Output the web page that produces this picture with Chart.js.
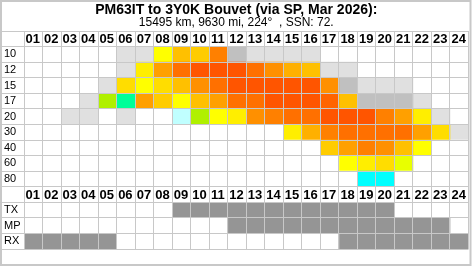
<!DOCTYPE html>
<html>
<head>
<meta charset="utf-8">
<script src="https://cdn.jsdelivr.net/npm/chart.js@4.4.1/dist/chart.umd.min.js"></script>
<style>
  html, body { margin: 0; padding: 0; background: #fff; }
  #wrap { width: 472px; height: 268px; }
</style>
</head>
<body>
<div id="wrap"><canvas id="chart" width="472" height="268"></canvas></div>
<script>
// UTC hours along the top
const hours = ['01','02','03','04','05','06','07','08','09','10','11','12',
               '13','14','15','16','17','18','19','20','21','22','23','24'];
const bandLabels = ['10','12','15','17','20','30','40','60','80'];
const modeLabels = ['TX','MP','RX'];

// level per hour for each band (0 = closed, 1/2 = grey, 3.. = colour scale)
const band10 = [0,0,0,0,0,1,1,8,12,11,16,2,1,1,1,1,0,0,0,0,0,0,0,0];
const band12 = [0,0,0,0,0,1,9,14,17,19,19,19,17,15,13,12,1,1,0,0,0,0,0,0];
const band15 = [0,0,0,0,1,10,8,10,12,15,17,19,19,19,19,19,15,2,1,1,1,0,0,0];
const band17 = [0,0,0,1,6,5,14,11,8,12,14,17,17,19,19,19,18,12,2,2,2,1,0,0];
const band20 = [0,0,1,1,0,1,0,0,3,6,8,9,15,16,17,17,19,19,19,16,14,9,1,0];
const band30 = [0,0,0,0,0,0,0,0,0,0,0,0,0,0,9,13,16,17,17,17,17,14,10,1];
const band40 = [0,0,0,0,0,0,0,0,0,0,0,0,0,0,0,0,11,14,16,15,12,8,0,0];
const band60 = [0,0,0,0,0,0,0,0,0,0,0,0,0,0,0,0,0,8,9,10,7,0,0,0];
const band80 = [0,0,0,0,0,0,0,0,0,0,0,0,0,0,0,0,0,0,4,4,0,0,0,0];

// sun / path flags
const tx = [0,0,0,0,0,0,0,0,1,1,1,1,1,1,1,1,1,1,1,1,0,0,0,0];
const mp = [0,0,0,0,0,0,0,0,0,0,0,1,1,1,1,1,1,1,1,1,1,1,1,0];
const rx = [1,1,1,1,1,0,0,0,0,0,0,0,0,0,0,0,0,1,1,1,1,1,1,1];

const levelColors = ['#ffffff','#e0e0e0','#c0c0c0','#c0ffff','#00ffff','#00ff99',
  '#b0f000','#e8ff00','#ffff00','#ffee00','#ffdd00','#ffcc00','#ffc000','#ffb000',
  '#ffa000','#ff9000','#ff8000','#ff7000','#ff6400','#ff5500'];
const font = "'Liberation Sans', Arial, sans-serif";
const lineColor = '#c8c8c8';

const bandRows = [band10, band12, band15, band17, band20, band30, band40, band60, band80];
const modeRows = [tx, mp, rx];
// header row, bands, header row again, TX/MP/RX
const rowLabels = [''].concat(bandLabels, [''], modeLabels);

const datasets = hours.map((h, i) => ({
    label: h,
    data: rowLabels.map(() => 1),
    backgroundColor: [].concat(
        ['rgba(0,0,0,0)'],
        bandRows.map(r => levelColors[r[i]]),
        ['rgba(0,0,0,0)'],
        modeRows.map(r => r[i] ? '#959595' : '#ffffff')
    ),
    borderWidth: 0,
    barPercentage: 1,
    categoryPercentage: 1
}));

// outer frame around the whole picture
const framePlugin = {
    id: 'frame',
    beforeDraw(chart) {
        const ctx = chart.ctx;
        ctx.save();
        ctx.fillStyle = '#fff';
        ctx.fillRect(0, 0, chart.width, chart.height);
        ctx.strokeStyle = lineColor;
        ctx.lineWidth = 2;
        ctx.strokeRect(1, 1, 469.5, 264);
        ctx.restore();
    }
};

// hour numbers in the two header rows
const hourHeaders = {
    id: 'hourHeaders',
    afterDraw(chart) {
        const ctx = chart.ctx;
        const xs = chart.scales.x;
        const ys = chart.scales.y;
        ctx.save();
        ctx.font = 'bold 13px ' + font;
        ctx.fillStyle = '#000';
        ctx.textAlign = 'center';
        ctx.textBaseline = 'middle';
        [0, bandLabels.length + 1].forEach(row => {
            const y = ys.getPixelForValue(row) + 1;
            hours.forEach((h, i) => {
                ctx.fillText(h, xs.getPixelForValue(i + 0.5) - 0.5, y);
            });
        });
        ctx.restore();
    }
};

new Chart(document.getElementById('chart'), {
    type: 'bar',
    data: { labels: rowLabels, datasets: datasets },
    options: {
        indexAxis: 'y',
        responsive: false,
        animation: false,
        layout: { padding: { top: 3, left: 4, right: 3.5, bottom: 19 } },
        plugins: {
            legend: { display: false },
            tooltip: { enabled: false },
            title: {
                display: true,
                text: 'PM63IT to 3Y0K Bouvet (via SP, Mar 2026):',
                color: '#000',
                font: { family: font, size: 14, weight: 'bold', lineHeight: 1 },
                padding: { top: 0, bottom: 0 }
            },
            subtitle: {
                display: true,
                text: '15495 km, 9630 mi, 224°  , SSN: 72.',
                color: '#000',
                font: { family: font, size: 12, lineHeight: 1 },
                padding: { top: 0, bottom: 2 }
            }
        },
        scales: {
            x: {
                type: 'linear',
                stacked: true,
                min: 0,
                max: 24,
                z: 1,
                ticks: { display: false, stepSize: 1 },
                grid: { color: lineColor, drawTicks: false, z: 1 },
                border: { display: false }
            },
            y: {
                stacked: true,
                z: 1,
                afterFit(scale) { scale.width = 20; },
                ticks: {
                    autoSkip: false,
                    crossAlign: 'far',
                    color: '#000',
                    font: { family: font, size: 11 }
                },
                grid: { color: lineColor, offset: true, tickLength: 22, z: 1 },
                border: { color: lineColor, z: 1 }
            }
        }
    },
    plugins: [framePlugin, hourHeaders]
});
</script>
</body>
</html>
